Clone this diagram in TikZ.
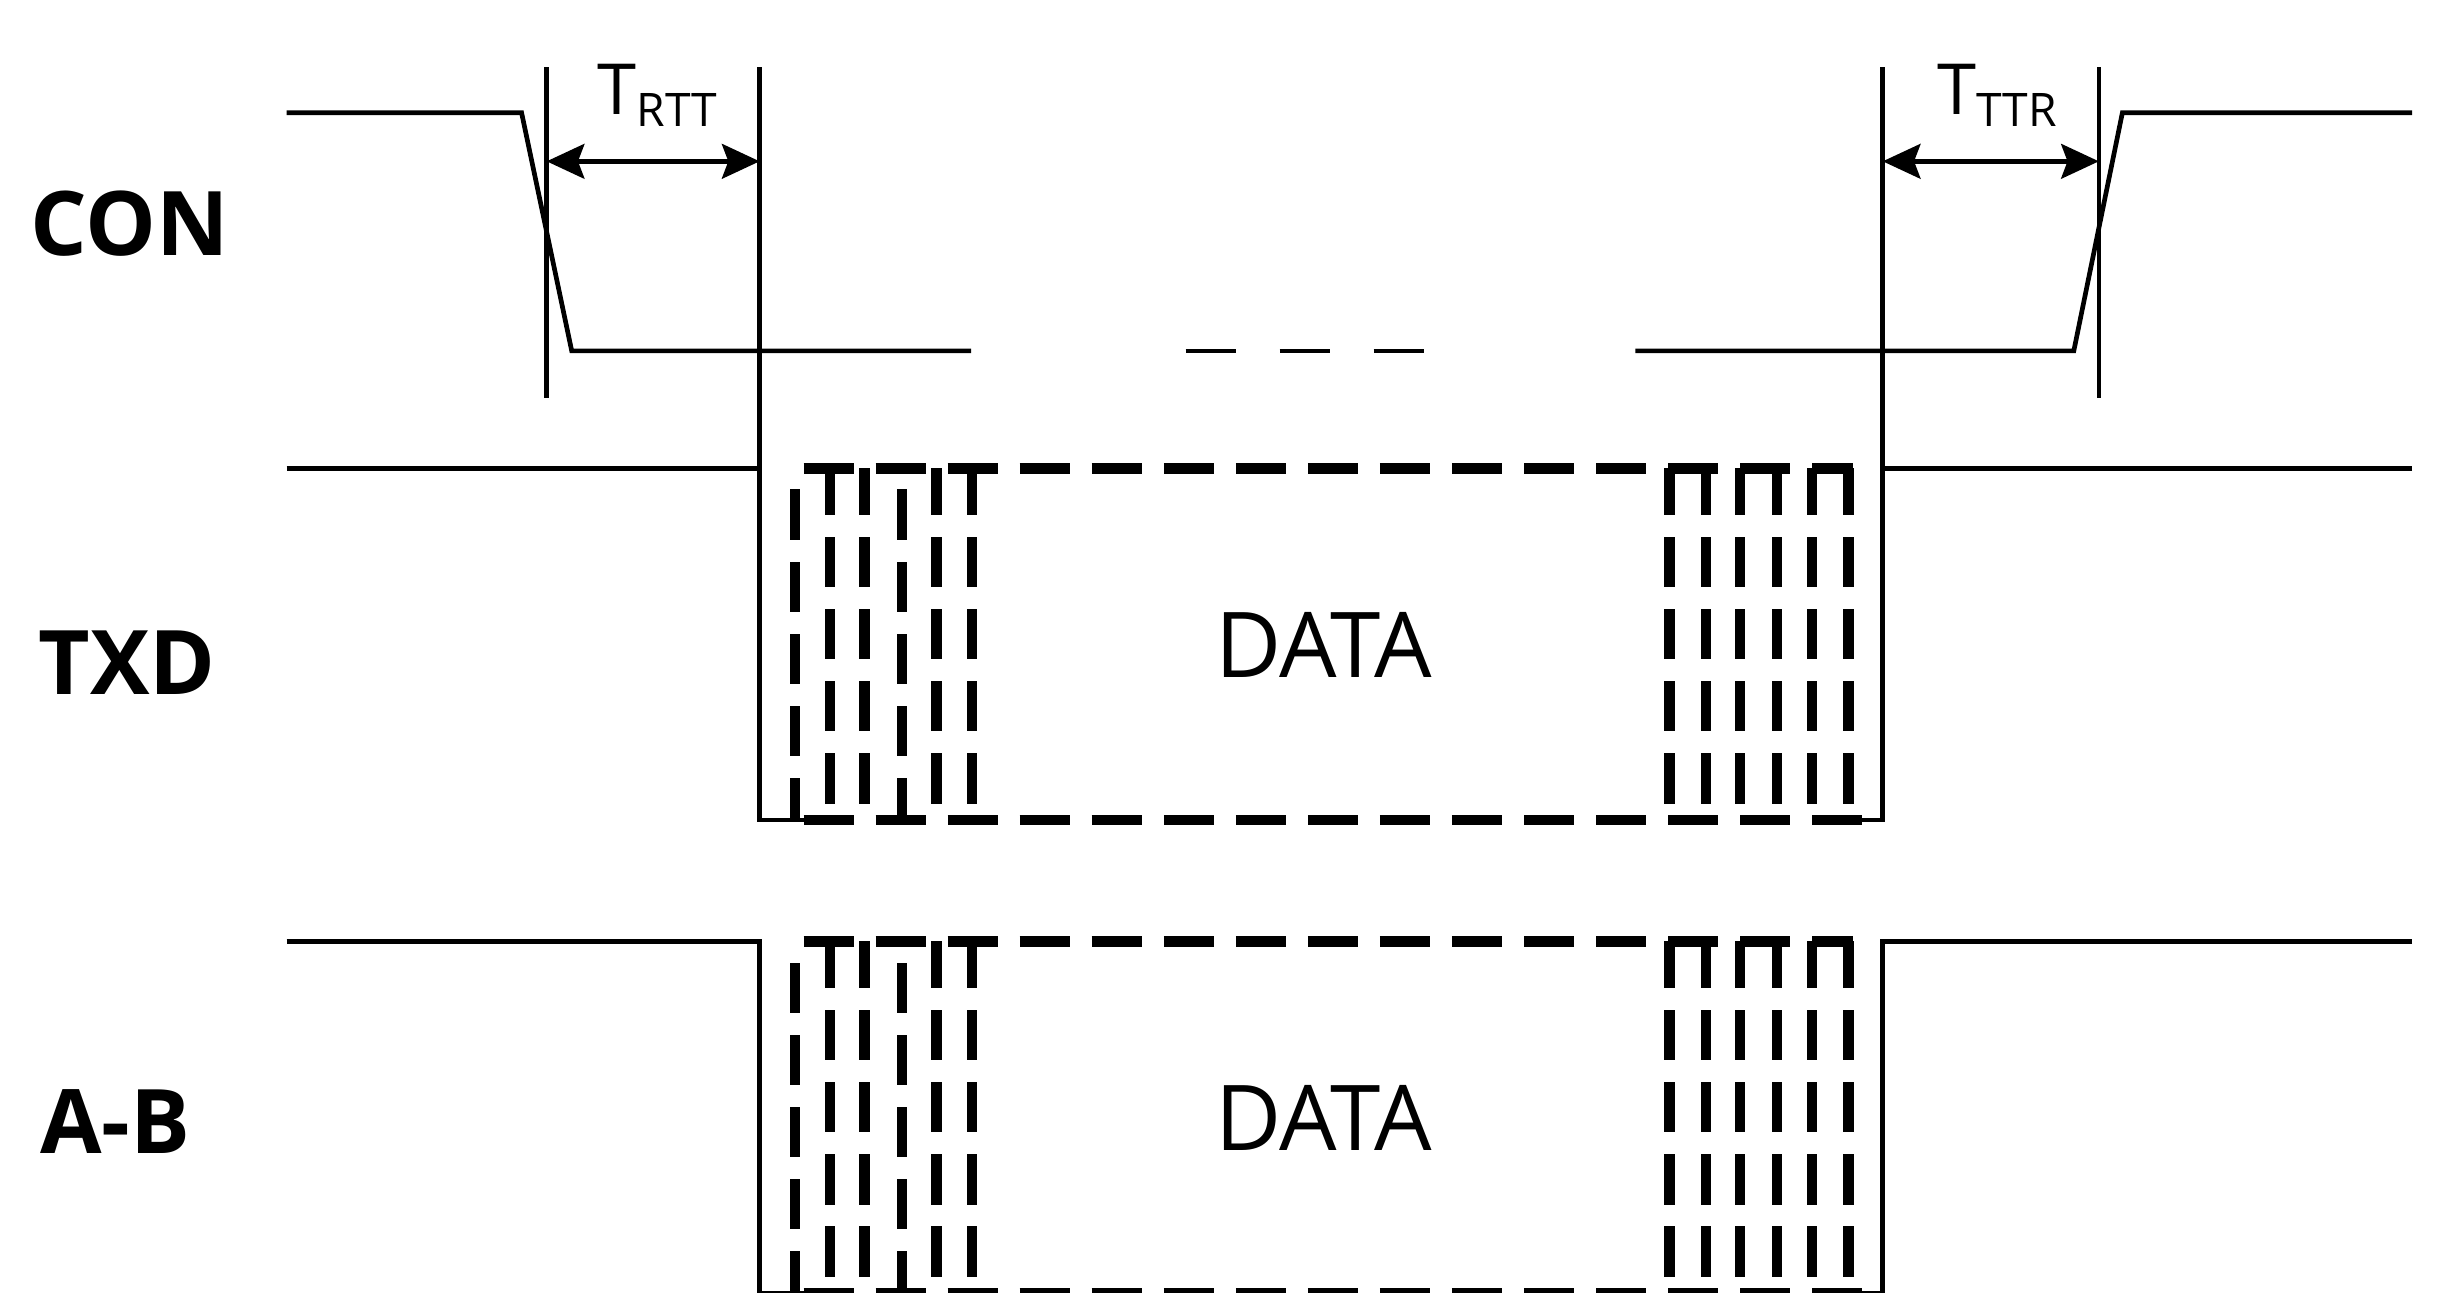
\documentclass[tikz,border=0pt]{standalone}
\usepackage{fontspec}
\setmainfont{Open Sans}
\usetikzlibrary{arrows.meta}

\begin{document}
\begin{tikzpicture}[x=0.1mm, y=-0.1mm,
    sig/.style={line width=0.85pt},
    dat/.style={line width=1.9pt, dash pattern=on 3.2mm off 1.4mm},
    lbl/.style={inner sep=0pt, anchor=west, font=\bfseries\fontsize{16.2}{18}\selectfont},
    txt/.style={inner sep=0pt, font=\fontsize{16.5}{18}\selectfont},
    tim/.style={inner sep=0pt, anchor=base west, font=\fontsize{12.8}{14}\selectfont},
    tspan/.style={line width=1pt, {Stealth[length=2.4mm,width=2.2mm,inset=0.4mm]}-{Stealth[length=2.4mm,width=2.2mm,inset=0.4mm]}}]
      \useasboundingbox (0,0) rectangle (1568,825);

      % signal names
      \node[lbl] (con) at (19,143) {CON};
      \node[lbl] (txd) at (24,423) {TXD};
      \node[lbl] (ab) at (25,716) {A-B};

      % CON
      \draw[sig] (183,72) -- (333,72) -- (365,224) -- (620,224);
      \draw[sig, dash pattern=on 3.2mm off 2.8mm] (757,224) -- (910,224);
      \draw[sig] (1044,224) -- (1324,224) -- (1355,72) -- (1540,72);

      % time marks
      \coordinate (m1) at (349,43);
      \coordinate (m2) at (485,43);
      \coordinate (m3) at (1202,43);
      \coordinate (m4) at (1340,43);
      \draw[sig] (m1) -- (349,254);
      \draw[sig] (m2) -- (485,299);
      \draw[sig] (m3) -- (1202,299);
      \draw[sig] (m4) -- (1340,254);
      \draw[tspan] ([yshift=-6mm]m1) -- ([yshift=-6mm]m2);
      \draw[tspan] ([yshift=-6mm]m3) -- ([yshift=-6mm]m4);
      \node[tim] (trtt) at (381,73.4) {T\raisebox{-0.76mm}{\fontsize{8.4}{10}\selectfont RTT}};
      \node[tim] (tttr) at (1236,73.4) {T\raisebox{-0.76mm}{\fontsize{8.4}{10}\selectfont TTR}};

      % TXD and A-B
      \foreach \dy/\nm in {0/txd, 302/ab} {
        \begin{scope}[shift={(0,\dy)}]
          \draw[sig] (183,299) -- (485,299) -- (485,523.5) -- (513,523.5);
          \draw[sig] (1540,299) -- (1202,299) -- (1202,523.5) -- (1180,523.5);
          \draw[dat] (513,299) -- (1183,299);
          \draw[dat] (513,523.5) -- (1202,523.5);
          \foreach \x in {530,552,598,620.6,1066,1089,1111,1134.5,1157,1180}
            \draw[dat, dash phase=0.2mm] (\x,299) -- (\x,513);
          \foreach \x in {507.6,576}
            \draw[dat, dash phase=0.5mm] (\x,523.5) -- (\x,312.5);
          \node[txt] (data\nm) at (845,412) {DATA};
        \end{scope}
      }
\end{tikzpicture}
\end{document}
